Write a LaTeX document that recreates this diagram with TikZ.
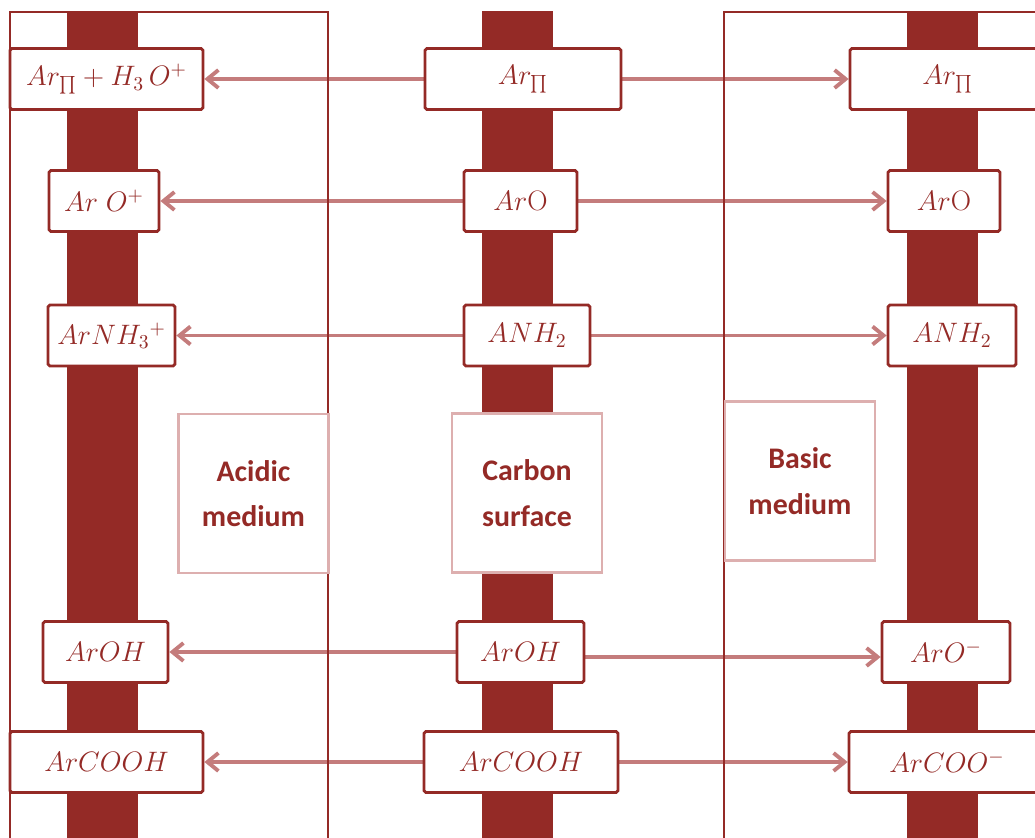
\RequirePackage{fix-cm}
\documentclass[tikz,border=0pt]{standalone}
\usepackage{fontspec}
\newfontfamily\calib{Carlito}
\usetikzlibrary{arrows.meta,backgrounds}
\definecolor{rust}{HTML}{942A26}
\definecolor{rose}{HTML}{C47C7C}
\definecolor{blush}{HTML}{DDAFAF}

\begin{document}
\begin{tikzpicture}[
  x=0.02cm, y=-0.02cm,
  species/.style={draw=rust, line width=1.6pt, fill=white, rounded corners=1pt, minimum height=1.22cm, inner sep=0pt, text=rust, font=\fontsize{16}{19}\selectfont},
  medium/.style={draw=blush, line width=1.6pt, fill=white, minimum width=3cm, minimum height=3.18cm, align=center, text=rust, font=\calib\bfseries\fontsize{17}{26}\selectfont},
  bar/.style={fill=rust},
  frame/.style={draw=rust, line width=1.6pt},
  arr/.style={-{Straight Barb[length=2.2mm, width=3.6mm]}, draw=rose, line width=2.2pt}
]
\useasboundingbox (0,0) rectangle (1035,838);

% acidic side
\node[species, minimum width=3.86cm] (a1) at (106.5,79) {$Ar_{\prod}+H_3\,O^+$};
\node[species, minimum width=2.2cm] (a2) at (104,201) {$Ar\;O^+$};
\node[species, minimum width=2.54cm] (a3) at (111.5,335.5) {$ArNH_3{}^{+}$};
\node[species, minimum width=2.5cm] (a4) at (105.5,652) {$ArOH$};
\node[species, minimum width=3.86cm] (a5) at (106.5,762) {$ArCOOH$};
% carbon surface
\node[species, minimum width=3.92cm] (c1) at (523,79) {$Ar_{\prod}$};
\node[species, minimum width=2.26cm] (c2) at (520.5,201) {$Ar\mathrm{O}$};
\node[species, minimum width=2.52cm] (c3) at (527,335.5) {$ANH_2$};
\node[species, minimum width=2.54cm] (c4) at (520.5,652) {$ArOH$};
\node[species, minimum width=3.88cm] (c5) at (521,762) {$ArCOOH$};
% basic side
\node[species, minimum width=3.9cm] (b1) at (947.5,79) {$Ar_{\prod}$};
\node[species, minimum width=2.24cm] (b2) at (944,201) {$Ar\mathrm{O}$};
\node[species, minimum width=2.56cm] (b3) at (952,335.5) {$ANH_2$};
\node[species, minimum width=2.56cm] (b4) at (946,652) {$ArO^-$};
\node[species, minimum width=3.92cm] (b5) at (947,762) {$ArCOO^-$};

\node[medium] (acid) at (253.5,493.5) {Acidic\\medium};
\node[medium] (carb) at (527,493) {Carbon\\surface};
\node[medium] (base) at (800,481) {Basic\\medium};

\begin{scope}[on background layer]
  \foreach \x in {67,482,907} \fill[bar] (\x,11) rectangle ++(71,840);
  \foreach \i in {1,2,3,5} {
    \draw[arr] (c\i) -- (a\i);
    \draw[arr] (c\i) -- (b\i);
  }
  \draw[arr] (c4) -- (a4);
  \draw[arr] ([yshift=-1mm]c4.east) -- ([yshift=-1mm]b4.west);
  \draw[frame] (10,850) |- (328,12) -- (328,850);
  \draw[frame] (724,850) |- (1050,12);
\end{scope}
\end{tikzpicture}
\end{document}
